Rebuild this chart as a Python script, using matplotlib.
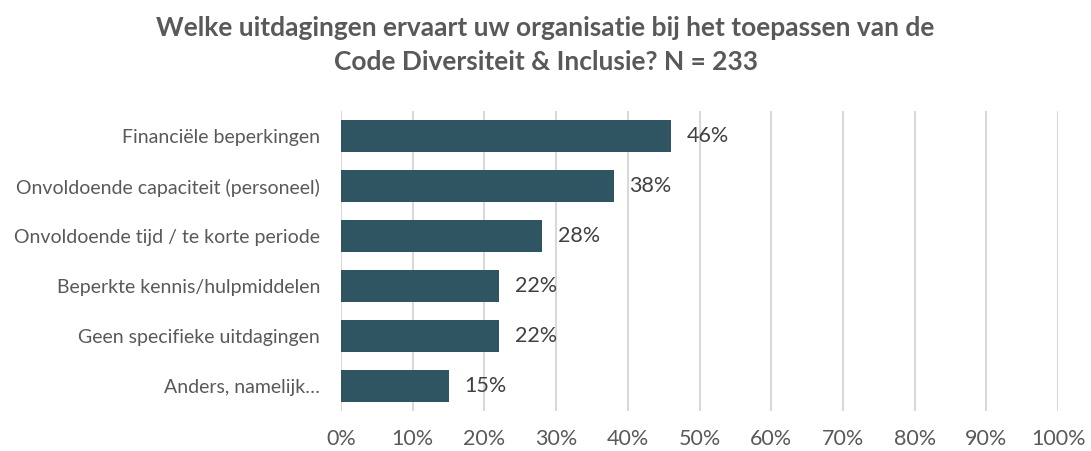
import matplotlib
matplotlib.use("Agg")
import matplotlib.pyplot as plt
import numpy as np

plt.rcParams['font.family'] = ['Lato', 'DejaVu Sans']

# data
categories = ["Financiële beperkingen",
              "Onvoldoende capaciteit (personeel)",
              "Onvoldoende tijd / te korte periode",
              "Beperkte kennis/hulpmiddelen",
              "Geen specifieke uitdagingen",
              "Anders, namelijk…"]
values = [46, 38, 28, 22, 22, 15]
xticks = list(range(0, 101, 10))

bar_color = '#2F5563'
text_color = '#404040'

fig = plt.figure(figsize=(10.91, 4.51), dpi=100)
ax = fig.add_axes([0.3126, 0.0887, 0.6572, 0.6652])

y = np.arange(len(categories))
ax.barh(y, values, height=0.64, color=bar_color, zorder=3)
for yi, v in zip(y, values):
    ax.text(v + 2.2, yi, f"{v}%", va='center', ha='left', fontsize=15.5, color=text_color)

ax.set_ylim(len(categories) - 0.5, -0.5)
ax.set_xlim(0, 100)
ax.set_yticks(y)
ax.set_yticklabels(categories, fontsize=14, color='#595959')
ax.set_xticks(xticks)
ax.set_xticklabels([f"{t}%" for t in xticks], fontsize=15.5, color='#595959')
ax.tick_params(axis='both', length=0)
ax.tick_params(axis='x', pad=13)
ax.tick_params(axis='y', pad=15)
ax.grid(axis='x', color='#D9D9D9', linewidth=1.5, zorder=0)
for s in ax.spines.values():
    s.set_visible(False)

fig.text(0.5, 0.937, "Welke uitdagingen ervaart uw organisatie bij het toepassen van de",
         ha='center', va='center', fontsize=19, fontweight='bold', color='#595959')
fig.text(0.5, 0.862, "Code Diversiteit & Inclusie? N = 233",
         ha='center', va='center', fontsize=19, fontweight='bold', color='#595959')

fig.savefig("out.png", dpi=100)
